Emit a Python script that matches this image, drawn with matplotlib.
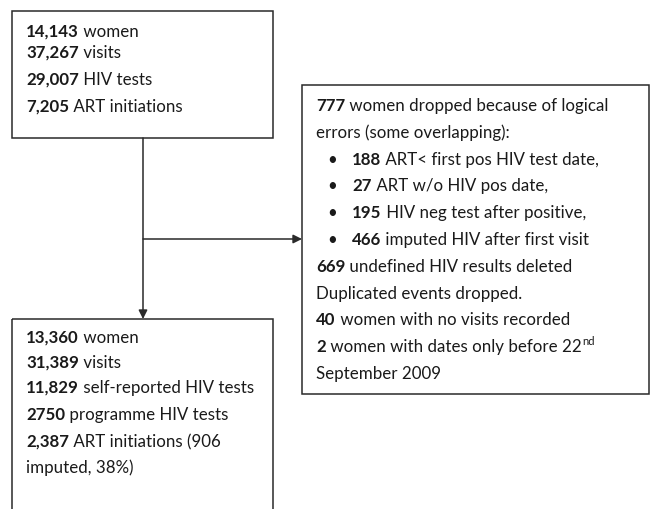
import matplotlib.pyplot as plt
from matplotlib.patches import Rectangle

plt.rcParams['font.family'] = ['Lato', 'DejaVu Sans']

# text of each box: (bold number, rest of line)
start_lines = [("14,143", " women"), ("37,267", " visits"),
               ("29,007", " HIV tests"), ("7,205", " ART initiations")]

dropped_lines = [("777", " women dropped because of logical"),
                 ("", "errors (some overlapping):")]
dropped_bullets = [("188", " ART< first pos HIV test date,"),
                   ("27", " ART w/o HIV pos date,"),
                   ("195", " HIV neg test after positive,"),
                   ("466", " imputed HIV after first visit")]
dropped_tail = [("669", " undefined HIV results deleted"),
                ("", "Duplicated events dropped."),
                ("40", " women with no visits recorded"),
                ("2", " women with dates only before 22"),
                ("", "September 2009")]
sup_text = "nd"

final_lines = [("13,360", " women"), ("31,389", " visits"),
               ("11,829", " self-reported HIV tests"),
               ("2750", " programme HIV tests"),
               ("2,387", " ART initiations (906"),
               ("", "imputed, 38%)")]

FS = 12.2
INK = "#1a1a1a"
EDGE = "#2a2a2a"

fig = plt.figure(figsize=(6.5, 5.1), dpi=100)
ax = fig.add_axes([0, 0, 1, 1])
ax.set_xlim(0, 650)
ax.set_ylim(510, 0)
ax.axis("off")
renderer = fig.canvas.get_renderer()


def write(x, y, bold, rest):
    if bold:
        t = ax.text(x, y, bold, fontsize=FS, fontweight="bold", color=INK,
                    va="baseline", ha="left")
        x += t.get_window_extent(renderer=renderer).width
    t = ax.text(x, y, rest, fontsize=FS, color=INK, va="baseline", ha="left")
    return x + t.get_window_extent(renderer=renderer).width


# boxes
for x0, y0, x1, y1 in [(12, 12, 273, 139), (302, 86, 649, 395), (12, 320, 273, 530)]:
    ax.add_patch(Rectangle((x0, y0), x1 - x0, y1 - y0, fill=False,
                           edgecolor=EDGE, linewidth=1.1))

# arrows
arrow = dict(arrowstyle="-|>", color=EDGE, lw=1.1, mutation_scale=13,
             shrinkA=0, shrinkB=0)
ax.annotate("", xy=(143, 320), xytext=(143, 139), arrowprops=arrow)
ax.annotate("", xy=(302, 240), xytext=(143, 240), arrowprops=arrow)

# first box
for (b, r), y in zip(start_lines, [37, 58, 85, 112]):
    write(26, y, b, r)

# final box
for (b, r), y in zip(final_lines, [343, 368, 393, 420, 447, 473]):
    write(26, y, b, r)

# dropped box
step = 26.8
y = 111
for b, r in dropped_lines:
    write(316, y, b, r)
    y += step
for b, r in dropped_bullets:
    ax.text(332, y, "\u2022", fontsize=FS, color=INK, va="baseline", ha="center")
    write(352, y, b, r)
    y += step
for i, (b, r) in enumerate(dropped_tail):
    xe = write(316, y, b, r)
    if i == 3:
        ax.text(xe + 1, y - 7, sup_text, fontsize=8, color=INK,
                va="baseline", ha="left")
    y += step

fig.savefig("out.png", dpi=100, facecolor="white")
